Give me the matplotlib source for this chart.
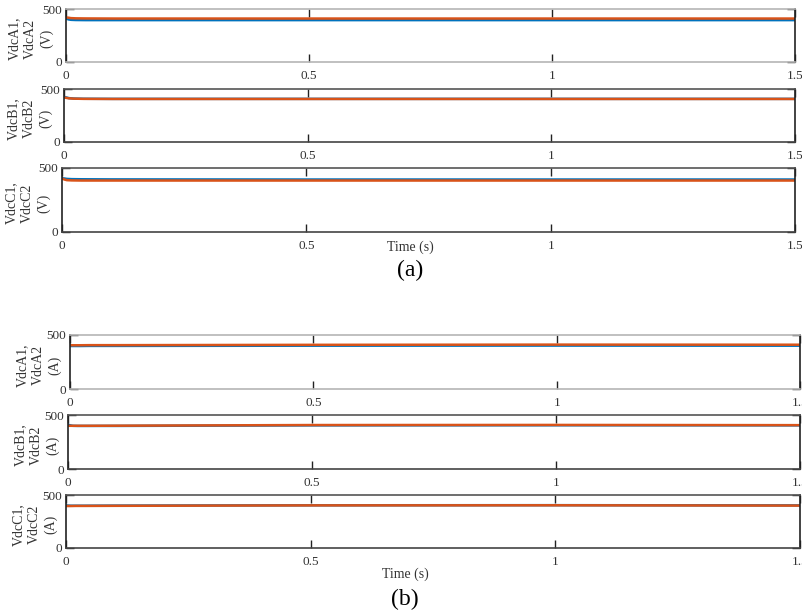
import numpy as np
import matplotlib.pyplot as plt

plt.rcParams['font.family'] = ['Liberation Serif', 'DejaVu Serif']

# time points (s)
t = [0, 0.005, 0.01, 0.02, 0.04, 0.1, 0.5, 1.0, 1.5]

# panel (a) DC-link voltages (V)
a_A1 = [410, 402, 398, 396, 395, 395, 395, 395, 395]
a_A2 = [420, 418, 414, 412, 411, 410, 410, 410, 410]
a_B1 = [425, 420, 414, 410, 408, 407, 407, 407, 407]
a_B2 = [420, 416, 412, 409, 407, 406, 406, 406, 406]
a_C1 = [420, 418, 415, 413, 412, 411, 410, 410, 410]
a_C2 = [418, 410, 405, 403, 402, 402, 402, 402, 402]

# panel (b)
b_A1 = [398, 398, 398, 398, 399, 399, 401, 402, 401]
b_A2 = [405, 405, 405, 405, 406, 406, 409, 411, 410]
b_B1 = [410, 404, 400, 399, 399, 399, 404, 405, 404]
b_B2 = [400, 400, 400, 400, 400, 401, 407, 408, 406]
b_C1 = [402, 400, 399, 399, 399, 400, 403, 404, 402]
b_C2 = [396, 396, 396, 397, 397, 398, 402, 403, 400]

xticks = [0, 0.5, 1, 1.5]
xticklabels = ['0', '0.5', '1', '1.5']
yticks = [0, 500]

W, H = 803, 611
fig = plt.figure(figsize=(W / 100, H / 100), dpi=100)

blue = '#0072BD'
orange = '#D95319'


def make_ax(left, right, top, bottom, s1, s2, label, label_x, first):
    ax = fig.add_axes([left / W, 1 - bottom / H, (right - left) / W, (bottom - top) / H])
    ax.plot(t, s1, color=blue, lw=1.8)
    ax.plot(t, s2, color=orange, lw=1.8)
    ax.set_xlim(0, 1.5)
    ax.set_ylim(0, 500)
    ax.set_xticks(xticks)
    ax.set_xticklabels(xticklabels)
    ax.set_yticks(yticks)
    ax.tick_params(direction='in', top=True, right=True, length=6, width=1,
                   labelsize=9.5, pad=6, colors='#222222', labelcolor='#333333')
    ax.tick_params(axis='y', pad=3)
    for s in ['left', 'right']:
        ax.spines[s].set_color('#222222')
    if first:
        ax.spines['top'].set_color('#b5b5b5')
        ax.spines['bottom'].set_color('#b5b5b5')
    else:
        ax.spines['top'].set_color('#555555')
        ax.spines['bottom'].set_color('#444444')
    for s in ax.spines.values():
        s.set_linewidth(1.2)
    fig.text(label_x / W, 1 - (top + bottom + 6) / 2 / H, label, rotation=90,
             ha='center', va='center', multialignment='center',
             fontsize=10, color='#333333', linespacing=1.3)
    return ax


# panel (a)
make_ax(66, 795, 9, 62, a_A1, a_A2, 'VdcA1,\nVdcA2\n(V)', 31, True)
make_ax(64, 795, 89, 142, a_B1, a_B2, 'VdcB1,\nVdcB2\n(V)', 30, False)
make_ax(62, 795, 168, 232, a_C1, a_C2, 'VdcC1,\nVdcC2\n(V)', 28, False)
fig.text(410 / W, 1 - 247 / H, 'Time (s)', ha='center', va='center', fontsize=10, color='#333333')
fig.text(410 / W, 1 - 270 / H, '(a)', ha='center', va='center', fontsize=17)

# panel (b)
make_ax(70, 800, 335, 389, b_A1, b_A2, 'VdcA1,\nVdcA2\n(A)', 39, True)
make_ax(68, 800, 415, 469, b_B1, b_B2, 'VdcB1,\nVdcB2\n(A)', 37, False)
make_ax(66, 800, 495, 548, b_C1, b_C2, 'VdcC1,\nVdcC2\n(A)', 35, False)
fig.text(405 / W, 1 - 574 / H, 'Time (s)', ha='center', va='center', fontsize=10, color='#333333')
fig.text(405 / W, 1 - 599 / H, '(b)', ha='center', va='center', fontsize=17)

plt.savefig('out.png', dpi=100)
